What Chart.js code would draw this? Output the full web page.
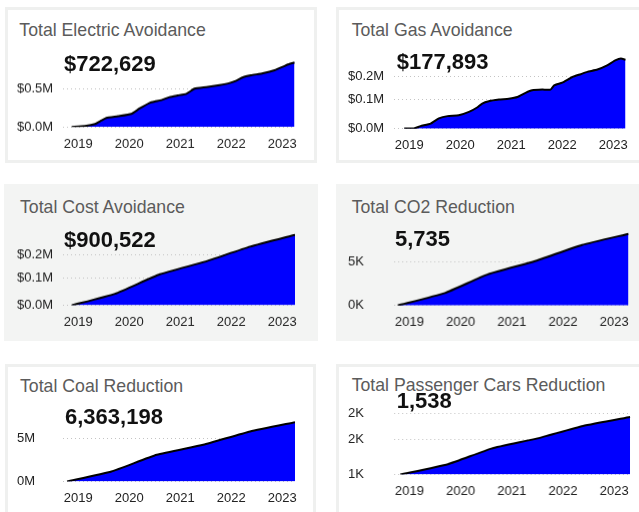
<!DOCTYPE html>
<html>
<head>
<meta charset="utf-8">
<script src="https://cdn.jsdelivr.net/npm/chart.js@4.4.0/dist/chart.umd.min.js"></script>
<style>
    body {
        margin: 0;
        width: 639px;
        height: 512px;
        overflow: hidden;
        position: relative;
        background: #ffffff;
        font-family: "Liberation Sans", Arial, sans-serif;
    }
    .card {
        position: absolute;
        box-sizing: border-box;
        border: 3px solid #eff0ef;
        background: #ffffff;
    }
    .card.shaded {
        background: #f3f4f3;
        border-color: #f3f4f3;
    }
    .title, .value {
        position: absolute;
        white-space: nowrap;
        line-height: 1;
    }
    .title {
        font-size: 17.7px;
        color: #5b5b5b;
    }
    .value {
        font-size: 22px;
        font-weight: bold;
        color: #111111;
    }
    .plot {
        position: absolute;
    }
</style>
</head>
<body>
    <!-- Cards -->
    <div class="card" style="left:5px; top:7px; width:312px; height:156px;"></div>
    <div class="card" style="left:336px; top:7px; width:320px; height:156px;"></div>
    <div class="card shaded" style="left:4px; top:184px; width:314px; height:157px;"></div>
    <div class="card shaded" style="left:336px; top:184px; width:320px; height:157px;"></div>
    <div class="card" style="left:5px; top:364px; width:311px; height:160px;"></div>
    <div class="card" style="left:336px; top:364px; width:320px; height:160px;"></div>

    <!-- Charts -->
    <div class="plot" style="left:17px; top:49.4px; width:290px; height:105.3px;"><canvas id="electricChart"></canvas></div>
    <div class="plot" style="left:348px; top:42.6px; width:290px; height:113.7px;"><canvas id="gasChart"></canvas></div>
    <div class="plot" style="left:17px; top:221.4px; width:290px; height:111.6px;"><canvas id="costChart"></canvas></div>
    <div class="plot" style="left:348px; top:221.3px; width:291.6px; height:111.7px;"><canvas id="co2Chart"></canvas></div>
    <div class="plot" style="left:17px; top:409.5px; width:290px; height:99.5px;"><canvas id="coalChart"></canvas></div>
    <div class="plot" style="left:348px; top:400.7px; width:293.6px; height:101.6px;"><canvas id="carsChart"></canvas></div>

    <!-- Titles and totals -->
    <div class="title" style="left:19.3px; top:21.7px;">Total Electric Avoidance</div>
    <div class="value" style="left:64px; top:53.1px;">$722,629</div>
    <div class="title" style="left:351.7px; top:21.7px;">Total Gas Avoidance</div>
    <div class="value" style="left:396.7px; top:51.4px;">$177,893</div>
    <div class="title" style="left:20px; top:199.3px;">Total Cost Avoidance</div>
    <div class="value" style="left:64px; top:229.1px;">$900,522</div>
    <div class="title" style="left:351.7px; top:199.3px;">Total CO2 Reduction</div>
    <div class="value" style="left:395px; top:228.1px;">5,735</div>
    <div class="title" style="left:20px; top:377.7px;">Total Coal Reduction</div>
    <div class="value" style="left:65px; top:405.7px;">6,363,198</div>
    <div class="title" style="left:351.7px; top:376.7px;">Total Passenger Cars Reduction</div>
    <div class="value" style="left:396.7px; top:389.7px;">1,538</div>

<script>
// Shared x axis
const yearTicks = [2019, 2020, 2021, 2022, 2023];
const yearLabels = ['2019', '2020', '2021', '2022', '2023'];

// Electric avoidance ($M)
const electricYears = [2018.87, 2019.13, 2019.33, 2019.46, 2019.55, 2019.78, 2020.04, 2020.20, 2020.40, 2020.50,
    2020.63, 2020.79, 2020.95, 2021.12, 2021.28, 2021.51, 2021.77, 2021.97, 2022.10, 2022.23,
    2022.39, 2022.62, 2022.85, 2023.01, 2023.11, 2023.24];
const electricValues = [0, 0.013, 0.04, 0.089, 0.12, 0.143, 0.174, 0.245, 0.321, 0.339,
    0.357, 0.397, 0.419, 0.441, 0.508, 0.53, 0.557, 0.584, 0.615, 0.66,
    0.686, 0.713, 0.753, 0.798, 0.829, 0.856];
const electricTicks = [0, 0.5];
const electricTickLabels = ['$0.0M', '$0.5M'];

// Gas avoidance ($M)
const gasYears = [2018.90, 2019.09, 2019.22, 2019.42, 2019.58, 2019.75, 2019.97, 2020.17, 2020.33, 2020.43,
    2020.56, 2020.76, 2020.95, 2021.12, 2021.28, 2021.41, 2021.61, 2021.77, 2021.84, 2022.00,
    2022.20, 2022.36, 2022.49, 2022.69, 2022.88, 2023.05, 2023.15, 2023.24];
const gasValues = [-0.024, -0.024, -0.014, -0.003, 0.019, 0.029, 0.033, 0.047, 0.066, 0.083,
    0.093, 0.1, 0.104, 0.111, 0.129, 0.14, 0.143, 0.143, 0.161, 0.173,
    0.197, 0.209, 0.219, 0.229, 0.247, 0.269, 0.276, 0.271];
const gasTicks = [-0.025, 0.1, 0.2];
const gasTickLabels = ['$0.0M', '$0.1M', '$0.2M'];

// Cost avoidance ($M)
const costYears = [2018.87, 2019.72, 2020.60, 2021.48, 2022.37, 2023.25];
const costValues = [-0.02, 0.03, 0.114, 0.168, 0.233, 0.284];
const costTicks = [-0.02, 0.1, 0.2];
const costTickLabels = ['$0.0M', '$0.1M', '$0.2M'];

// CO2 reduction (K)
const co2Years = [2018.77, 2019.69, 2020.54, 2021.45, 2022.37, 2023.28];
const co2Values = [0, 1.42, 3.58, 5.07, 6.92, 8.19];
const co2Ticks = [0, 5];
const co2TickLabels = ['0K', '5K'];

// Coal reduction (M)
const coalYears = [2018.78, 2019.65, 2020.54, 2021.45, 2022.37, 2023.25];
const coalValues = [0, 1.17, 3.13, 4.30, 5.86, 6.95];
const coalTicks = [0, 5];
const coalTickLabels = ['0M', '5M'];

// Passenger cars reduction (K)
const carsYears = [2018.82, 2019.75, 2020.60, 2021.48, 2022.39, 2023.31];
const carsValues = [0.827, 1.026, 1.327, 1.519, 1.763, 1.936];
const carsTicks = [0.827, 1.5, 2.0];
const carsTickLabels = ['1K', '2K', '2K'];

Chart.defaults.font.family = '"Liberation Sans", Arial, sans-serif';
Chart.defaults.font.size = 13;
Chart.defaults.color = '#222222';

class ImpactDashboard {
    constructor() {
        this.charts = [];
        this.init();
    }

    init() {
        this.charts.push(this.createAreaChart('electricChart', electricYears, electricValues,
            electricTicks, electricTickLabels, { yMin: 0, yMax: 0.9, xMax: 2023.25 }));
        this.charts.push(this.createAreaChart('gasChart', gasYears, gasValues,
            gasTicks, gasTickLabels, { yMin: -0.025, yMax: 0.3, xMax: 2023.25 }));
        this.charts.push(this.createAreaChart('costChart', costYears, costValues,
            costTicks, costTickLabels, { yMin: -0.02, yMax: 0.3, xMax: 2023.25 }));
        this.charts.push(this.createAreaChart('co2Chart', co2Years, co2Values,
            co2Ticks, co2TickLabels, { yMin: 0, yMax: 8.5, xMax: 2023.28 }));
        this.charts.push(this.createAreaChart('coalChart', coalYears, coalValues,
            coalTicks, coalTickLabels, { yMin: 0, yMax: 7.2, xMax: 2023.25 }));
        this.charts.push(this.createAreaChart('carsChart', carsYears, carsValues,
            carsTicks, carsTickLabels, { yMin: 0.827, yMax: 2.05, xMax: 2023.32 }));
    }

    // Blue filled area with black outline
    createAreaChart(canvasId, years, values, tickValues, tickLabels, range) {
        const ctx = document.getElementById(canvasId);
        const points = years.map((x, i) => ({ x: x, y: values[i] }));

        return new Chart(ctx, {
            type: 'line',
            data: {
                datasets: [{
                    data: points,
                    borderColor: '#000000',
                    borderWidth: 2,
                    backgroundColor: '#0000ff',
                    fill: 'start',
                    pointRadius: 0,
                    tension: 0.15
                }]
            },
            options: {
                responsive: true,
                maintainAspectRatio: false,
                animation: false,
                layout: {
                    padding: { top: 10, right: 12, left: 0, bottom: 0 }
                },
                plugins: {
                    legend: { display: false },
                    tooltip: { enabled: false }
                },
                scales: {
                    x: {
                        type: 'linear',
                        min: 2018.7,
                        max: range.xMax,
                        grid: { display: false },
                        border: { display: false },
                        afterBuildTicks: scale => {
                            scale.ticks = yearTicks.map(v => ({ value: v }));
                        },
                        afterFit: scale => { scale.height = 28; },
                        ticks: {
                            autoSkip: false,
                            maxRotation: 0,
                            padding: 1,
                            callback: (value, index) => yearLabels[index]
                        }
                    },
                    y: {
                        min: range.yMin,
                        max: range.yMax,
                        grid: {
                            color: '#c4c4c4',
                            lineWidth: 1,
                            drawTicks: false
                        },
                        border: { display: false, dash: [1, 3] },
                        afterBuildTicks: scale => {
                            scale.ticks = tickValues.map(v => ({ value: v }));
                        },
                        // fixed width, and no extra room for the label of the top tick
                        afterFit: scale => {
                            scale.width = 46;
                            scale.paddingTop = 0;
                            scale.paddingBottom = 0;
                        },
                        ticks: {
                            crossAlign: 'far',
                            padding: 10,
                            callback: (value, index) => tickLabels[index]
                        }
                    }
                }
            }
        });
    }
}

const dashboard = new ImpactDashboard();
</script>
</body>
</html>
